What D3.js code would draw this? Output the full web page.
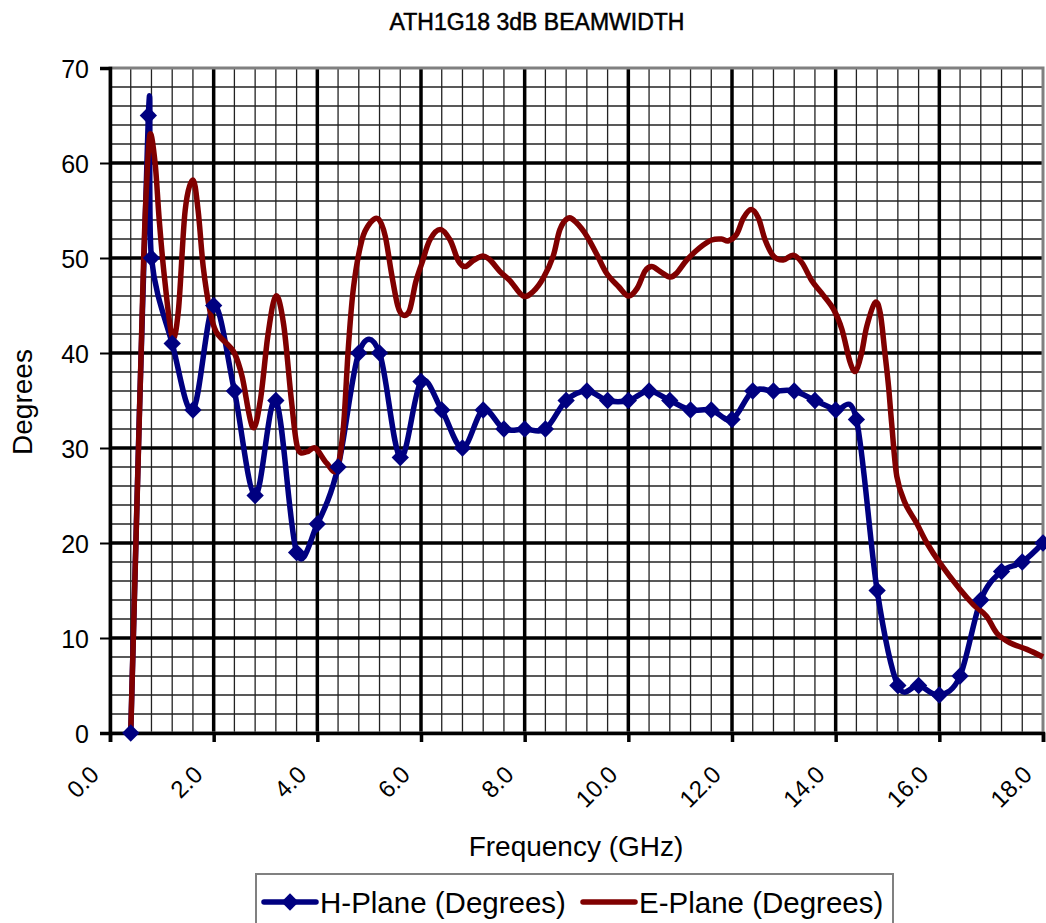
<!DOCTYPE html>
<html>
<head>
<meta charset="utf-8">
<script src="https://cdn.jsdelivr.net/npm/d3@7"></script>
<style>
body { margin: 0; background: #fff; }
text { font-family: "Liberation Sans", Arial, sans-serif; fill: #000; }
</style>
</head>
<body>
<script>
var width = 1046,
    height = 923;

// H-plane (GHz / degrees)
var hFreq = [0.4, 0.74, 0.8, 1.2, 1.6, 2.0, 2.4, 2.8, 3.2, 3.6, 4.0, 4.4, 4.8, 5.2, 5.6, 6.0,
             6.4, 6.8, 7.2, 7.6, 8.0, 8.4, 8.8, 9.2, 9.6, 10.0, 10.4, 10.8, 11.2, 11.6, 12.0,
             12.4, 12.8, 13.2, 13.6, 14.0, 14.4, 14.8, 15.2, 15.6, 16.0, 16.4, 16.8, 17.2, 17.6, 18.0];
var hDeg  = [0, 65, 50, 41, 34, 45, 36, 25, 35, 19, 22, 28, 40, 40, 29, 37,
             34, 30, 34, 32, 32, 32, 35, 36, 35, 35, 36, 35, 34, 34, 33,
             36, 36, 36, 35, 34, 33, 15, 5, 5, 4, 6, 14, 17, 18, 20];

// E-plane, no markers
var eFreq = [0.4, 0.5, 0.6, 0.65, 0.7, 0.77, 0.87, 0.95, 1.05, 1.2, 1.32, 1.45, 1.6, 1.7, 1.8, 1.93,
             2.05, 2.25, 2.4, 2.55, 2.75, 2.9, 3.05, 3.2, 3.35, 3.5, 3.62, 3.8, 3.96, 4.18, 4.37,
             4.5, 4.6, 4.7, 4.86, 5.02, 5.18, 5.31, 5.43, 5.55, 5.65, 5.78, 5.9, 6.02, 6.17, 6.37,
             6.56, 6.72, 6.85, 7.0, 7.19, 7.33, 7.52, 7.72, 7.97, 8.17, 8.36, 8.55, 8.68, 8.84, 9.0,
             9.2, 9.39, 9.58, 9.81, 10.0, 10.17, 10.32, 10.45, 10.61, 10.8, 10.93, 11.13, 11.38,
             11.61, 11.8, 11.93, 12.09, 12.22, 12.37, 12.51, 12.64, 12.8, 12.99, 13.18, 13.35,
             13.54, 13.73, 13.96, 14.12, 14.28, 14.39, 14.5, 14.6, 14.76, 14.86, 14.95, 15.02,
             15.08, 15.18, 15.34, 15.56, 15.76, 16.01, 16.4, 16.66, 16.91, 17.11, 17.36, 17.69, 18.0];
var eDeg  = [0, 20, 40, 50, 57, 63, 60, 54, 48, 41.7, 44.5, 55, 58.2, 55, 49, 44.4,
             42.2, 41, 40, 37.5, 32.2, 35, 42, 46, 43, 35, 30, 29.6, 30, 28.4, 27.7,
             32, 40.7, 47, 51.9, 53.7, 54.1, 52.3, 48.4, 45, 44, 44.5, 47.5, 49.5, 51.9, 53,
             51.9, 49.7, 49.1, 49.7, 50.2, 49.8, 48.6, 47.6, 46.0, 46.5, 47.9, 50.2, 53, 54.2, 53.7,
             52.3, 50.4, 48.4, 47.0, 46.0, 46.8, 48.6, 49.1, 48.6, 48.0, 48.4, 49.8, 51.1,
             51.9, 52.0, 51.8, 52.5, 54.2, 55.1, 54.2, 51.9, 50.2, 49.8, 50.3, 49.5,
             47.6, 46.3, 44.6, 42.5, 39.0, 38.1, 40.0, 42.8, 45.3, 44.2, 40, 36.5,
             32.6, 27, 24.2, 22.1, 20, 17.9, 15.1, 13.5, 12.3, 10.5, 9.5, 8.8, 8.0];

var xTicks = [0, 2, 4, 6, 8, 10, 12, 14, 16, 18];
var xTickLabels = ["0.0", "2.0", "4.0", "6.0", "8.0", "10.0", "12.0", "14.0", "16.0", "18.0"];
var yTicks = [0, 10, 20, 30, 40, 50, 60, 70];

var seriesNames = ["H-Plane (Degrees)", "E-Plane (Degrees)"];
var seriesColors = ["#000080", "#800000"];

var svg = d3.select("body").append("svg").attr("width", width).attr("height", height);

var x = d3.scaleLinear().domain([0, 18]).range([110, 1043]);
var y = d3.scaleLinear().domain([0, 70]).range([733, 68]);

var g = svg.append("g");

// minor grid (0.4 GHz / 2 deg)
g.selectAll("line.vmin").data(d3.range(0.4, 18, 0.4)).enter().append("line")
    .attr("class", "vmin")
    .attr("x1", d => x(d)).attr("x2", d => x(d))
    .attr("y1", y(0)).attr("y2", y(70))
    .attr("stroke", "#222").attr("stroke-width", 1.3);
g.selectAll("line.hmin").data(d3.range(2, 70, 2)).enter().append("line")
    .attr("class", "hmin")
    .attr("x1", x(0)).attr("x2", x(18))
    .attr("y1", d => y(d)).attr("y2", d => y(d))
    .attr("stroke", "#222").attr("stroke-width", 1.3);

// major grid
g.selectAll("line.vmaj").data(xTicks.slice(1, -1)).enter().append("line")
    .attr("x1", d => x(d)).attr("x2", d => x(d))
    .attr("y1", y(0)).attr("y2", y(70))
    .attr("stroke", "#000").attr("stroke-width", 3.5);
g.selectAll("line.hmaj").data(yTicks.slice(1, -1)).enter().append("line")
    .attr("x1", x(0)).attr("x2", x(18))
    .attr("y1", d => y(d)).attr("y2", d => y(d))
    .attr("stroke", "#000").attr("stroke-width", 3.5);

// plot border, top and right are grey
g.append("rect")
    .attr("x", x(0)).attr("y", y(70))
    .attr("width", x(18) - x(0)).attr("height", y(0) - y(70))
    .attr("fill", "none").attr("stroke", "#808080").attr("stroke-width", 3);

// axes
var xAxis = d3.axisBottom(x).tickValues(xTicks).tickSize(9).tickFormat((d, i) => xTickLabels[i]);
var yAxis = d3.axisLeft(y).tickValues(yTicks).tickSize(10).tickFormat(d3.format("d"));

var gx = svg.append("g").attr("transform", "translate(0," + y(0) + ")").call(xAxis);
gx.select(".domain").attr("stroke", "#000").attr("stroke-width", 3.5);
gx.selectAll(".tick line").attr("stroke", "#000").attr("stroke-width", 3.5);
gx.selectAll(".tick text")
    .attr("font-size", 24)
    .attr("text-anchor", "end")
    .attr("x", 0).attr("y", 0).attr("dy", 0)
    .attr("transform", "translate(-10,43) rotate(-45)");

var gy = svg.append("g").attr("transform", "translate(" + x(0) + ",0)").call(yAxis);
gy.select(".domain").attr("stroke", "#000").attr("stroke-width", 3.5);
gy.selectAll(".tick line").attr("stroke", "#000").attr("stroke-width", 2);
gy.selectAll(".tick text").attr("font-size", 25).attr("x", -21).attr("dy", "0.36em");
svg.selectAll(".tick text").attr("font-family", "Liberation Sans, Arial, sans-serif").attr("fill", "#000");

// series
var smooth = d3.line().curve(d3.curveCatmullRom.alpha(0));
var hPts = hFreq.map((f, i) => [x(f), y(hDeg[i])]);
var ePts = eFreq.map((f, i) => [x(f), y(eDeg[i])]);

svg.append("path").attr("d", smooth(hPts))
    .attr("fill", "none").attr("stroke", seriesColors[0]).attr("stroke-width", 5.5)
    .attr("stroke-linejoin", "round");
svg.append("path").attr("d", smooth(ePts))
    .attr("fill", "none").attr("stroke", seriesColors[1]).attr("stroke-width", 5.5)
    .attr("stroke-linejoin", "round");

var diamond = d3.symbol().type(d3.symbolSquare).size(150);
svg.selectAll("path.mark").data(hPts).enter().append("path")
    .attr("class", "mark")
    .attr("d", diamond)
    .attr("transform", d => "translate(" + d[0] + "," + d[1] + ") rotate(45)")
    .attr("fill", seriesColors[0]);

// titles
svg.append("text").attr("x", 537).attr("y", 30).attr("text-anchor", "middle")
    .attr("font-size", 23).attr("stroke", "#000").attr("stroke-width", 0.5)
    .text("ATH1G18 3dB BEAMWIDTH");
svg.append("text").attr("x", 576).attr("y", 856).attr("text-anchor", "middle")
    .attr("font-size", 28).text("Frequency (GHz)");
svg.append("text").attr("transform", "translate(32,402) rotate(-90)").attr("text-anchor", "middle")
    .attr("font-size", 28).text("Degrees");

// legend
var lg = svg.append("g");
lg.append("rect").attr("x", 256).attr("y", 874).attr("width", 637).attr("height", 70)
    .attr("fill", "#fff").attr("stroke", "#808080").attr("stroke-width", 2);
var legX = [264, 583];
seriesNames.forEach(function (name, i) {
    lg.append("line").attr("x1", legX[i]).attr("x2", legX[i] + 52)
        .attr("y1", 902).attr("y2", 902)
        .attr("stroke", seriesColors[i]).attr("stroke-width", 5.5).attr("stroke-linecap", "round");
    if (i == 0) {
        lg.append("path").attr("d", diamond)
            .attr("transform", "translate(" + (legX[i] + 26) + ",902) rotate(45)")
            .attr("fill", seriesColors[i]);
    }
    lg.append("text").attr("x", legX[i] + 56).attr("y", 913)
        .attr("font-size", 29.5).text(name);
});
</script>
</body>
</html>
